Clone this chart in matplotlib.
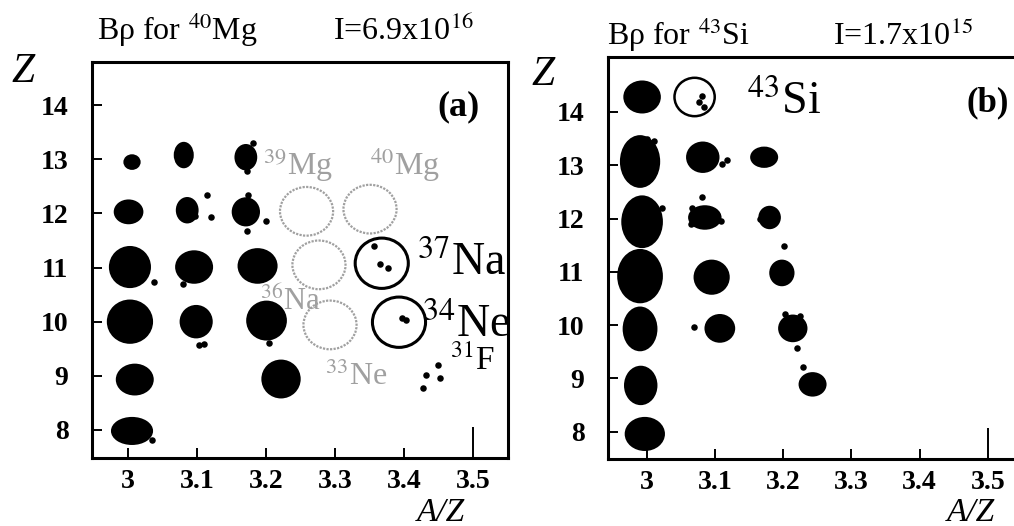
import matplotlib.pyplot as plt
from matplotlib.patches import Ellipse

plt.rcParams['font.family'] = ['Liberation Serif', 'DejaVu Serif']
plt.rcParams['mathtext.fontset'] = 'stix'

# ---- panel (a): B-rho set for 40Mg ----
# event clusters: centre (A/Z, Z) and spread of the cluster in A/Z and Z
a_az = [3.006, 3.081, 3.171, 3.001, 3.086, 3.171, 3.003, 3.096, 3.188,
        3.003, 3.099, 3.201, 3.010, 3.222, 3.006]
a_z = [12.95, 13.08, 13.04, 12.03, 12.06, 12.03, 11.01, 11.01, 11.03,
       10.00, 10.00, 10.02, 8.93, 8.94, 7.98]
a_daz = [0.022, 0.026, 0.030, 0.040, 0.030, 0.038, 0.058, 0.052, 0.055,
         0.064, 0.045, 0.056, 0.052, 0.054, 0.058]
a_dz = [0.25, 0.45, 0.45, 0.42, 0.45, 0.50, 0.74, 0.58, 0.62,
        0.78, 0.58, 0.70, 0.55, 0.68, 0.48]
# single events
a_single_az = [3.114, 3.120, 3.097, 3.174, 3.200, 3.172, 3.038, 3.080,
               3.103, 3.110, 3.204, 3.181, 3.172, 3.035,
               3.357, 3.365, 3.377, 3.398, 3.403,
               3.432, 3.450, 3.452, 3.428]
a_single_z = [12.34, 11.93, 11.95, 12.34, 11.86, 11.68, 10.73, 10.70,
              9.57, 9.58, 9.61, 13.30, 12.78, 7.82,
              11.39, 11.06, 11.00, 10.06, 10.04,
              9.02, 9.20, 8.96, 8.77]
# expected positions of unobserved / observed new isotopes
a_gray_az = [3.259, 3.351, 3.277, 3.293]
a_gray_z = [12.04, 12.08, 11.05, 9.94]
a_new_az = [3.368, 3.393]
a_new_z = [11.08, 9.99]

# ---- panel (b): B-rho set for 43Si ----
b_az = [2.993, 2.990, 3.082, 3.172, 2.993, 3.085, 3.180, 2.990, 3.095,
        3.198, 2.990, 3.107, 3.214, 2.991, 3.243, 2.997]
b_z = [14.28, 13.07, 13.15, 13.15, 11.94, 12.02, 12.02, 10.92, 10.90,
       10.98, 9.93, 9.94, 9.94, 8.87, 8.89, 7.96]
b_daz = [0.052, 0.056, 0.046, 0.038, 0.058, 0.046, 0.030, 0.064, 0.050,
         0.034, 0.048, 0.042, 0.040, 0.046, 0.038, 0.056]
b_dz = [0.58, 0.95, 0.55, 0.36, 0.95, 0.42, 0.40, 0.98, 0.62,
        0.46, 0.80, 0.50, 0.48, 0.70, 0.42, 0.60]
b_single_az = [3.000, 3.010, 3.110, 3.117, 3.022, 3.081, 3.109, 3.066,
               3.065, 3.166, 3.201, 3.069, 3.202, 3.225, 3.220, 3.229,
               3.081, 3.076, 3.084]
b_single_z = [13.50, 13.45, 13.02, 13.10, 12.20, 12.40, 11.96, 12.20,
              11.90, 12.00, 11.49, 9.96, 10.21, 10.17, 9.58, 9.21,
              14.30, 14.19, 14.09]
b_new_az = [3.070]
b_new_z = [14.28]

xticks = [3, 3.1, 3.2, 3.3, 3.4, 3.5]
xticklabels = ['3', '3.1', '3.2', '3.3', '3.4', '3.5']
zticks = [8, 9, 10, 11, 12, 13, 14]

fig = plt.figure(figsize=(10.14, 5.26), dpi=100)
W, H = 1014, 526


def px(x, y):
    return x / W, 1 - y / H


ax1 = fig.add_axes([92 / W, 68 / H, 416 / W, 396 / H])
ax2 = fig.add_axes([608 / W, 67 / H, 418 / W, 402 / H])
ax1.set_xlim(2.948, 3.551)
ax1.set_ylim(7.48, 14.80)
ax2.set_xlim(2.943, 3.556)
ax2.set_ylim(7.49, 15.03)


def style(ax):
    for s in ax.spines.values():
        s.set_linewidth(2.2)
    ax.set_xticks(xticks)
    ax.set_xticklabels(xticklabels)
    ax.set_yticks(zticks)
    ax.tick_params(direction='in', length=7, width=1.4, labelsize=20)
    ax.tick_params(axis='x', pad=8)
    ax.tick_params(axis='y', pad=17)
    for lab in ax.get_xticklabels() + ax.get_yticklabels():
        lab.set_fontweight('bold')
    ax.xaxis.get_major_ticks()[-1].tick1line.set_markersize(22)


def blobs(ax, xs, zs, dxs, dzs):
    for x, z, dx, dz in zip(xs, zs, dxs, dzs):
        ax.add_patch(Ellipse((x, z), dx, dz, facecolor='black',
                             edgecolor='black', lw=1.5))


style(ax1)
style(ax2)

blobs(ax1, a_az, a_z, a_daz, a_dz)
ax1.scatter(a_single_az, a_single_z, s=22, c='black', lw=0)
for x, z in zip(a_gray_az, a_gray_z):
    ax1.add_patch(Ellipse((x, z), 0.077, 0.90, fill=False, edgecolor='#a0a0a0',
                          lw=1.6, ls=(0, (1, 0.6))))
for x, z in zip(a_new_az, a_new_z):
    ax1.add_patch(Ellipse((x, z), 0.077, 0.93, fill=False, edgecolor='black',
                          lw=2.2))

blobs(ax2, b_az, b_z, b_daz, b_dz)
ax2.scatter(b_single_az, b_single_z, s=22, c='black', lw=0)
for x, z in zip(b_new_az, b_new_z):
    ax2.add_patch(Ellipse((x, z), 0.059, 0.72, fill=False, edgecolor='black',
                          lw=1.8))

# isotope labels
gray = '#a0a0a0'
ax1.text(3.196, 12.71, '$^{39}$Mg', color=gray, fontsize=23)
ax1.text(3.351, 12.71, '$^{40}$Mg', color=gray, fontsize=23)
ax1.text(3.191, 10.22, '$^{36}$Na', color=gray, fontsize=22)
ax1.text(3.286, 8.83, '$^{33}$Ne', color=gray, fontsize=23)
ax1.text(3.419, 10.87, '$^{37}$Na', fontsize=33)
ax1.text(3.426, 9.72, '$^{34}$Ne', fontsize=33)
ax1.text(3.467, 9.11, '$^{31}$F', fontsize=24)
ax1.text(3.448, 13.82, '(a)', fontsize=26, fontweight='bold')
ax2.text(3.147, 13.96, '$^{43}$Si', fontsize=33)
ax2.text(3.469, 14.02, '(b)', fontsize=25, fontweight='bold')

# titles and axis names
fig.text(*px(97, 40), 'B\u03c1 for $^{40}$Mg', fontsize=23, va='baseline')
fig.text(*px(333, 40), 'I=6.9x10$^{16}$', fontsize=23, va='baseline')
fig.text(*px(607, 45), 'B\u03c1 for $^{43}$Si', fontsize=23, va='baseline')
fig.text(*px(833, 45), 'I=1.7x10$^{15}$', fontsize=23, va='baseline')
fig.text(*px(11, 82), 'Z', fontsize=30, fontstyle='italic', va='baseline')
fig.text(*px(531, 85), 'Z', fontsize=30, fontstyle='italic', va='baseline')
fig.text(*px(417, 521), 'A/Z', fontsize=24, fontstyle='italic', va='baseline')
fig.text(*px(947, 521), 'A/Z', fontsize=24, fontstyle='italic', va='baseline')

fig.savefig('out.png', dpi=100)
